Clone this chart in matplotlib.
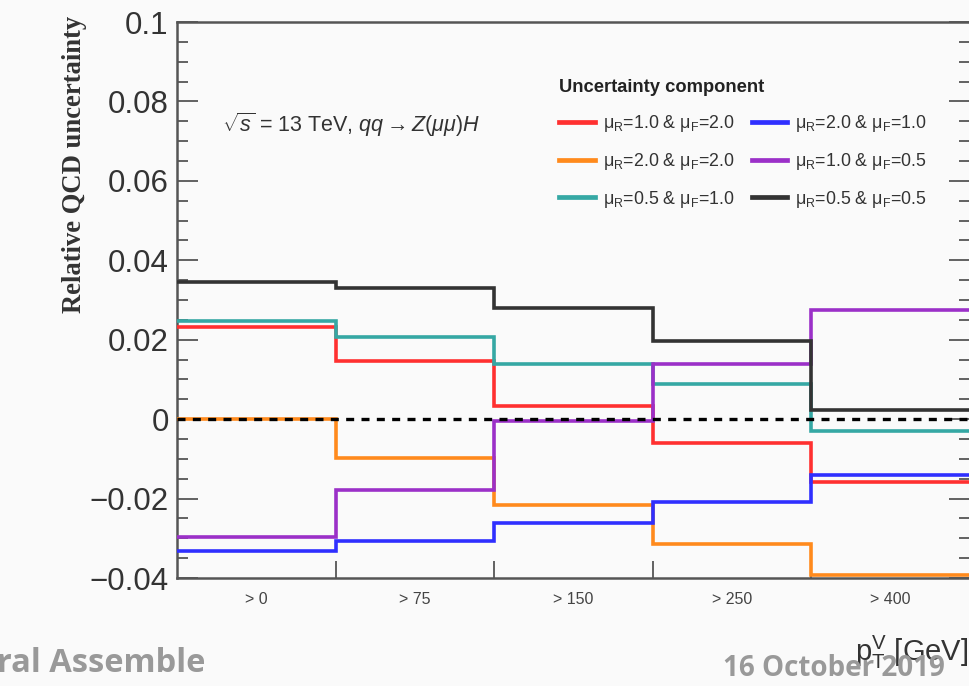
import matplotlib
matplotlib.use("Agg")
import matplotlib.pyplot as plt
from matplotlib.ticker import FixedLocator, FixedFormatter, MultipleLocator

plt.rcParams["font.family"] = ["Liberation Sans", "DejaVu Sans"]
plt.rcParams["mathtext.fontset"] = "custom"
plt.rcParams["mathtext.rm"] = "Liberation Sans"
plt.rcParams["mathtext.it"] = "Liberation Sans:italic"
plt.rcParams["mathtext.bf"] = "Liberation Sans:bold"

# pT^V bins
bin_labels = ["> 0", "> 75", "> 150", "> 250", "> 400"]
edges = [0, 1, 2, 3, 4, 5]

# scale variations (mu_R, mu_F)
labels = [r"$\mathrm{\mu_{R}}$=1.0 & $\mathrm{\mu_{F}}$=2.0",
          r"$\mathrm{\mu_{R}}$=2.0 & $\mathrm{\mu_{F}}$=2.0",
          r"$\mathrm{\mu_{R}}$=0.5 & $\mathrm{\mu_{F}}$=1.0",
          r"$\mathrm{\mu_{R}}$=2.0 & $\mathrm{\mu_{F}}$=1.0",
          r"$\mathrm{\mu_{R}}$=1.0 & $\mathrm{\mu_{F}}$=0.5",
          r"$\mathrm{\mu_{R}}$=0.5 & $\mathrm{\mu_{F}}$=0.5"]
r10_f20 = [0.0232, 0.0146, 0.0032, -0.0060, -0.0159]
r20_f20 = [0.0000, -0.0098, -0.0215, -0.0314, -0.0392]
r05_f10 = [0.0247, 0.0207, 0.0140, 0.0088, -0.0031]
r20_f10 = [-0.0331, -0.0308, -0.0261, -0.0208, -0.0141]
r10_f05 = [-0.0297, -0.0178, -0.0005, 0.0139, 0.0275]
r05_f05 = [0.0345, 0.0330, 0.0280, 0.0197, 0.0022]
series = [r10_f20, r20_f20, r05_f10, r20_f10, r10_f05, r05_f05]
colors = ["#ff3030", "#ff8a1c", "#35a8a4", "#2f2fff", "#9b30c8", "#333333"]

ytick_vals = [-0.04, -0.02, 0, 0.02, 0.04, 0.06, 0.08, 0.1]
ytick_txt = ["\u22120.04", "\u22120.02", "0", "0.02", "0.04", "0.06", "0.08", "0.1"]

fig = plt.figure(figsize=(9.69, 6.86), dpi=100, facecolor="#fafafa")
ax = fig.add_axes([177/969, 108/686, 793/969, 556/686])
ax.set_facecolor("#fafafa")

ax.axhline(0, color="black", lw=2.4, ls=(0, (2.4, 2.2)), zorder=5)
handles = []
for vals, c, lab in zip(series, colors, labels):
    ax.stairs(vals, edges, baseline=None, color=c, lw=2.6, zorder=3)
    h, = ax.plot([], [], color=c, lw=3.4, label=lab)
    handles.append(h)

ax.set_xlim(0, 5)
ax.set_ylim(-0.04, 0.1)

ax.yaxis.set_major_locator(FixedLocator(ytick_vals))
ax.yaxis.set_major_formatter(FixedFormatter(ytick_txt))
ax.yaxis.set_minor_locator(MultipleLocator(0.005))
ax.tick_params(axis="y", which="major", direction="in", length=15, width=1.3,
               right=True, labelsize=22.5, pad=6, colors="#555555", labelcolor="#333333")
ax.tick_params(axis="y", which="minor", direction="in", length=8, width=1.3,
               right=True, colors="#555555")

ax.xaxis.set_major_locator(FixedLocator([1, 2, 3, 4]))
ax.xaxis.set_major_formatter(FixedFormatter([]))
ax.xaxis.set_minor_locator(FixedLocator([0.5, 1.5, 2.5, 3.5, 4.5]))
ax.xaxis.set_minor_formatter(FixedFormatter(bin_labels))
ax.tick_params(axis="x", which="major", direction="in", length=12, width=1.3, colors="#555555")
ax.tick_params(axis="x", which="minor", length=0, labelsize=11.5, pad=10, labelcolor="#444444")

for s in ax.spines.values():
    s.set_color("#555555")
    s.set_linewidth(1.8)

ax.set_ylabel("Relative QCD uncertainty", family="Liberation Serif", fontweight="bold",
              fontsize=19.2, color="#333333")
ax.yaxis.set_label_coords(-0.114, 0.743)

fig.text(222/969, 1 - 125/686, r"$\sqrt{s}$ = 13 TeV, $qq \rightarrow Z(\mu\mu)H$",
         fontsize=15.5, color="#333333", va="center", ha="left")

leg = ax.legend(handles=handles, ncol=2, loc="upper left",
                bbox_to_anchor=(543/969, 1 - 63/686), bbox_transform=fig.transFigure,
                frameon=False, fontsize=12.8, title="Uncertainty component",
                title_fontproperties={"weight": "bold", "size": 13.2},
                alignment="left", handlelength=2.0, handletextpad=0.45,
                columnspacing=1.0, labelspacing=0.95)
for t in leg.get_texts():
    t.set_color("#333333")
leg.get_title().set_color("#222222")

fig.text(968/969, 1 - 652/686, r"p$_{\mathrm{T}}^{\mathrm{V}}$ [GeV]", fontsize=21,
         color="#333333", ha="right", va="center")

fig.text(-0.003, 1 - 664/686, "ral Assemble", fontsize=23.5, fontweight="bold",
         family="Open Sans", color="#999999", ha="left", va="center")
fig.text(945/969, 1 - 668/686, "16 October 2019", fontsize=20, fontweight="bold",
         family="Open Sans", color="#999999", ha="right", va="center", zorder=10)

fig.savefig("out.png", dpi=100, facecolor=fig.get_facecolor())
